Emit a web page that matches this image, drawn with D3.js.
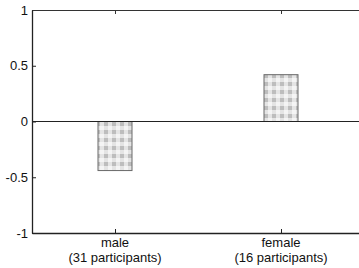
<!DOCTYPE html>
<html>
<head>
<meta charset="utf-8">
<script src="https://cdn.jsdelivr.net/npm/d3@7"></script>
<style>
  body { margin: 0; background: #fff; }
  text { font-family: "Liberation Sans", Arial, sans-serif; }
</style>
</head>
<body>
<div id="chart-area"></div>
<script>
// data
var categories = ['male', 'female'];
var subLabels = ['(31 participants)', '(16 participants)'];
var values = [-0.44, 0.42];
var yTicks = [-1, -0.5, 0, 0.5, 1];

var margin = {left: 32, right: -5, top: 10, bottom: 35};
var width = 359 - margin.left - margin.right;
var height = 268 - margin.top - margin.bottom;

var svg = d3.select('#chart-area')
  .append('svg')
  .attr('width', 359)
  .attr('height', 268);

// checkered fill like the print
var defs = svg.append('defs');
var pat = defs.append('pattern')
  .attr('id', 'check')
  .attr('patternUnits', 'userSpaceOnUse')
  .attr('width', 8)
  .attr('height', 8);
pat.append('rect').attr('width', 8).attr('height', 8).attr('fill', '#e4e4e4');
pat.append('rect').attr('width', 4).attr('height', 4).attr('fill', '#bdbdbd');
pat.append('rect').attr('x', 4).attr('y', 4).attr('width', 4).attr('height', 4).attr('fill', '#f4f4f4');

var g = svg.append('g')
  .attr('transform', 'translate(' + margin.left + ', ' + margin.top + ')');

var x = d3.scalePoint()
  .domain(categories)
  .range([0, width])
  .padding(0.5);

var y = d3.scaleLinear()
  .domain([-1, 1])
  .range([height, 0]);

var barW = 34;

// bars
g.selectAll('rect.bar')
  .data(values)
  .enter()
  .append('rect')
  .attr('class', 'bar')
  .attr('x', function (d, i) { return x(categories[i]) - barW / 2; })
  .attr('y', function (d) { return y(Math.max(0, d)); })
  .attr('width', barW)
  .attr('height', function (d) { return Math.abs(y(d) - y(0)); })
  .attr('fill', 'url(#check)')
  .attr('stroke', '#6a6a6a')
  .attr('stroke-width', 1);

// zero line
g.append('line')
  .attr('x1', 0).attr('x2', width)
  .attr('y1', y(0)).attr('y2', y(0))
  .attr('stroke', '#222')
  .attr('stroke-width', 1.2);

// y axis with inward ticks
var yAxisCall = d3.axisRight(y)
  .tickValues(yTicks)
  .tickSize(4)
  .tickSizeOuter(0)
  .tickFormat(function (d) { return d; });
var yAxis = g.append('g').attr('class', 'y-axis').call(yAxisCall);
yAxis.select('.domain').attr('stroke', '#222').attr('stroke-width', 1.3);
yAxis.selectAll('.tick line').attr('stroke', '#222');
yAxis.selectAll('.tick text')
  .attr('x', -4)
  .attr('text-anchor', 'end')
  .attr('font-size', '13px')
  .attr('fill', '#111');

// bottom axis, ticks pointing up
var xAxisCall = d3.axisTop(x).tickSize(4).tickSizeOuter(0).tickFormat('');
var xAxis = g.append('g')
  .attr('transform', 'translate(0, ' + height + ')')
  .call(xAxisCall);
xAxis.select('.domain').attr('stroke', '#222').attr('stroke-width', 1.3);
xAxis.selectAll('.tick line').attr('stroke', '#222');

// top border, ticks pointing down
var xTopCall = d3.axisBottom(x).tickSize(4).tickSizeOuter(0).tickFormat('');
var xTop = g.append('g').call(xTopCall);
xTop.select('.domain').attr('stroke', '#333').attr('stroke-width', 1.2);
xTop.selectAll('.tick line').attr('stroke', '#333');

// category labels
g.selectAll('text.cat')
  .data(categories)
  .enter()
  .append('text')
  .attr('class', 'cat')
  .attr('x', function (d) { return x(d); })
  .attr('y', height + 14)
  .attr('text-anchor', 'middle')
  .attr('font-size', '13px')
  .attr('fill', '#111')
  .text(function (d) { return d; });

g.selectAll('text.sub')
  .data(subLabels)
  .enter()
  .append('text')
  .attr('class', 'sub')
  .attr('x', function (d, i) { return x(categories[i]); })
  .attr('y', height + 29)
  .attr('text-anchor', 'middle')
  .attr('font-size', '13px')
  .attr('fill', '#111')
  .text(function (d) { return d; });
</script>
</body>
</html>
